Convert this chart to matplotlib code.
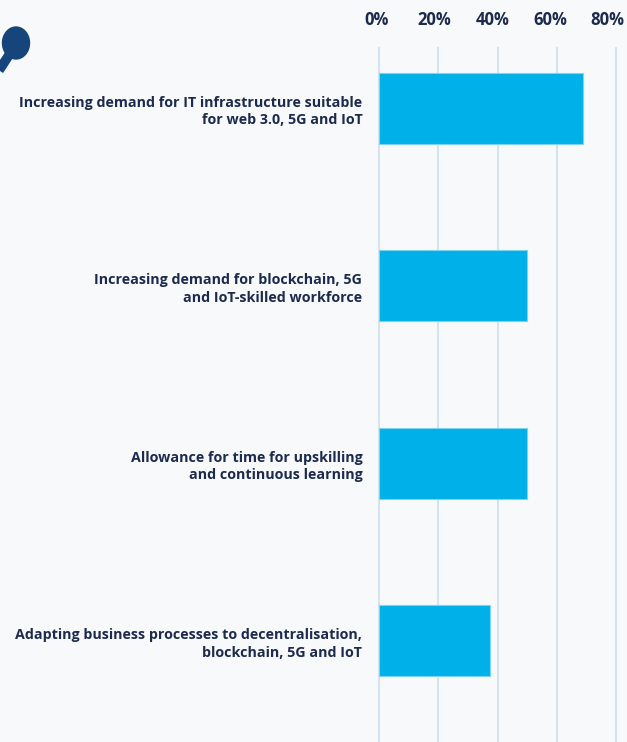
import matplotlib.pyplot as plt
from matplotlib.patches import Circle
from matplotlib.lines import Line2D

# Share of respondents (%)
factors = [
    'Increasing demand for IT infrastructure suitable\nfor web 3.0, 5G and IoT',
    'Increasing demand for blockchain, 5G\nand IoT-skilled workforce',
    'Allowance for time for upskilling\nand continuous learning',
    'Adapting business processes to decentralisation,\nblockchain, 5G and IoT',
]
shares = [69, 50, 50, 37.5]
ticks = [0, 20, 40, 60, 80]

BG = '#f8f9fa'
BAR = '#00b0e8'
GRID = '#d5e3f1'
NAVY = '#1b2a4e'

plt.rcParams['font.family'] = ['Open Sans', 'DejaVu Sans']

fig = plt.figure(figsize=(6.27, 7.42), dpi=100, facecolor=BG)
# axes box in pixels: left 379, right 616, top 48, bottom 742
ax = fig.add_axes([379 / 627, 0, (616 - 379) / 627, (742 - 48) / 742])
ax.set_facecolor(BG)

y = range(len(factors))
ax.barh(y, shares, height=0.4, color=BAR, edgecolor='#7fd3f1',
        linewidth=0.8, zorder=3)

ax.set_xlim(0, 80)
ax.set_ylim(3.57, -0.34)
ax.set_xticks(ticks)
ax.set_xticklabels([])
ax.tick_params(axis='x', length=0, labelbottom=False)

# vertical gridlines, left one not clipped by the axes edge
for t in ticks:
    ax.axvline(t, color=GRID, linewidth=1.5, zorder=0, clip_on=False)

# percent labels along the top, drifting slightly left of each gridline
for t in ticks:
    ax.annotate(f'{t}%', xy=(t, 1), xycoords=('data', 'axes fraction'),
                xytext=(-1.5 - 0.055 * t, 20), textcoords='offset points',
                ha='center', va='center', fontsize=12, fontweight='bold',
                color=NAVY)

ax.set_yticks(list(y))
ax.set_yticklabels(factors, fontsize=10.3, fontweight='bold', color=NAVY,
                   linespacing=1.3)
ax.tick_params(axis='y', length=0, pad=12)

for s in ax.spines.values():
    s.set_visible(False)

# decorative marker in the top-left corner
fig.patches.append(Circle((16 / 627, 1 - 43 / 742), 13.5 / 627,
                          transform=fig.transFigure, color='#15457a'))
fig.lines.append(Line2D([11 / 627, -6 / 627], [1 - 52 / 742, 1 - 78 / 742],
                        transform=fig.transFigure, color='#15457a',
                        linewidth=7, solid_capstyle='butt'))

fig.savefig('out.png', dpi=100, facecolor=BG)
